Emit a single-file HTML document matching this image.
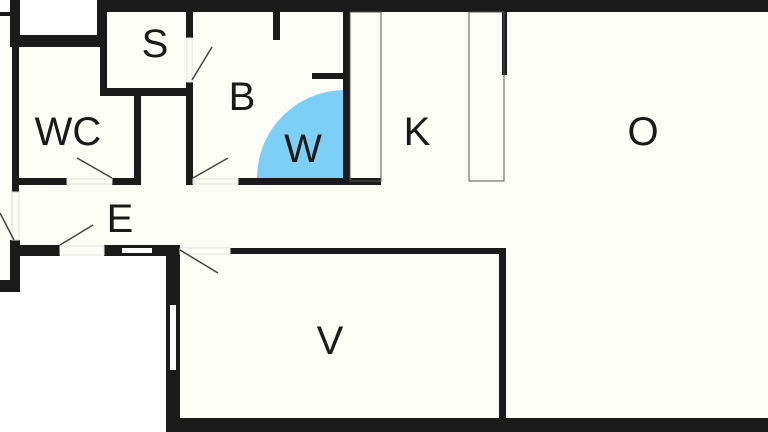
<!DOCTYPE html>
<html><head><meta charset="utf-8"><style>
html,body{margin:0;padding:0;background:#fff;}
svg{display:block}
text{font-family:"Liberation Sans",sans-serif;font-size:40px;fill:#1a1a1a;text-anchor:middle}
</style></head><body>
<svg width="768" height="432" viewBox="0 0 768 432" xmlns="http://www.w3.org/2000/svg">
<rect x="0" y="0" width="768" height="432" fill="#fdfdf8"/>
<!-- white exterior areas -->
<rect x="20" y="0" width="77" height="35" fill="#fff"/>
<rect x="0" y="0" width="10" height="12" fill="#fff"/>
<rect x="0" y="292" width="166" height="140" fill="#fff"/>
<rect x="20" y="256" width="146" height="40" fill="#fff"/>
<!-- W quarter circle -->
<path d="M345 178 L257 178 A88 88 0 0 1 345 90 Z" fill="#7dd0f5"/>
<g fill="#1a1a1a">
<!-- top wall -->
<rect x="97" y="0" width="671" height="12"/>
<rect x="97" y="0" width="10" height="47"/>
<rect x="10" y="35" width="97" height="12"/>
<rect x="10" y="0" width="10" height="47"/>
<rect x="0" y="12" width="10" height="4"/>
<!-- left wall -->
<rect x="12" y="47" width="7" height="145"/>
<rect x="10" y="240" width="10" height="52"/>
<rect x="0" y="280" width="20" height="12"/>
<!-- S -->
<rect x="100" y="47" width="7" height="49"/>
<rect x="100" y="88" width="93" height="8"/>
<rect x="186" y="12" width="7" height="26"/>
<rect x="186" y="82" width="7" height="103"/>
<!-- WC -->
<rect x="134" y="96" width="7" height="89"/>
<rect x="15" y="178" width="52" height="7"/>
<rect x="112" y="178" width="29" height="7"/>
<!-- B -->
<rect x="238" y="178" width="143" height="7"/>
<rect x="273" y="12" width="7" height="28"/>
<rect x="312" y="73" width="35" height="6"/>
<rect x="343" y="12" width="7" height="173"/>
<!-- O stub -->
<rect x="502" y="12" width="5" height="63"/>
<!-- E bottom wall -->
<rect x="10" y="245" width="50" height="11"/>
<rect x="104" y="245" width="76" height="11"/>
<rect x="230" y="248" width="276" height="6"/>
<!-- V -->
<rect x="166" y="245" width="14" height="187"/>
<rect x="499" y="248" width="7" height="172"/>
<rect x="166" y="418" width="602" height="14"/>
</g>
<!-- windows -->
<rect x="122" y="248" width="30" height="5" fill="#fff"/>
<rect x="170" y="305" width="6" height="65" fill="#fff"/>
<rect x="12" y="192" width="7" height="48" fill="#fdfdf8" stroke="#ddd" stroke-width="1"/>
<rect x="60" y="246" width="44" height="9" fill="#fdfdf8" stroke="#e4e4e0" stroke-width="1"/>
<rect x="180" y="248" width="50" height="6" fill="#fdfdf8" stroke="#e4e4e0" stroke-width="1"/>
<rect x="67" y="179" width="45" height="5" fill="#fdfdf8" stroke="#e4e4e0" stroke-width="1"/>
<rect x="193" y="179" width="45" height="5" fill="#fdfdf8" stroke="#e4e4e0" stroke-width="1"/>
<rect x="187" y="38" width="5" height="44" fill="#fdfdf8" stroke="#e4e4e0" stroke-width="1"/>
<!-- cabinets -->
<rect x="350" y="12" width="31" height="169" fill="none" stroke="#555" stroke-width="1"/>
<rect x="469" y="12" width="35" height="169" fill="none" stroke="#555" stroke-width="1"/>
<!-- door swings -->
<g stroke="#444" stroke-width="1.5">
<line x1="192" y1="80" x2="212" y2="47"/>
<line x1="112" y1="178" x2="77" y2="158"/>
<line x1="193" y1="178" x2="228" y2="158"/>
<line x1="0" y1="213" x2="14" y2="240"/>
<line x1="60" y1="245" x2="93" y2="225"/>
<line x1="180" y1="250" x2="218" y2="273"/>
</g>
<text x="155" y="57">S</text>
<text x="242" y="110">B</text>
<text x="68" y="145">WC</text>
<text x="303" y="162">W</text>
<text x="417" y="145">K</text>
<text x="643" y="145">O</text>
<text x="120" y="232">E</text>
<text x="330" y="354">V</text>
</svg>
</body></html>
